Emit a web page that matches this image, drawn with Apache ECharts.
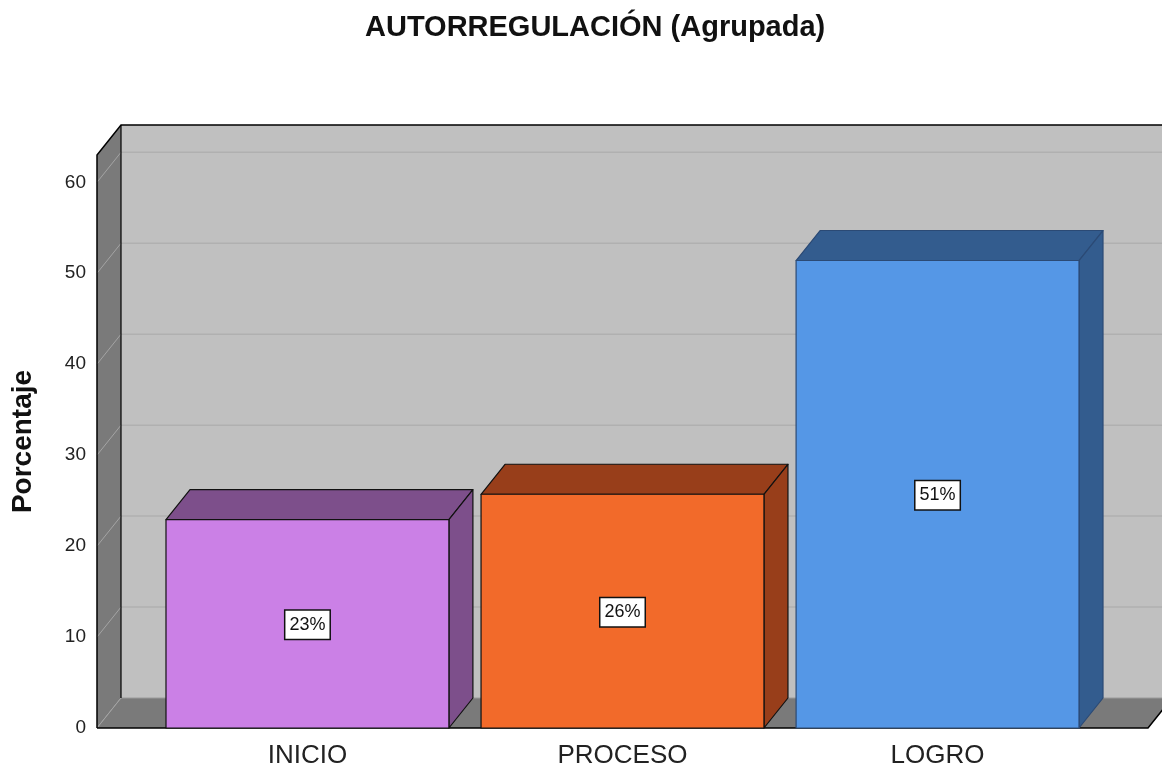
<!DOCTYPE html>
<html>
<head>
<meta charset="utf-8">
<script src="https://cdn.jsdelivr.net/npm/echarts@6/dist/echarts.min.js"></script>
<style>
html,body{margin:0;padding:0;background:#fff;}
#chart{width:1162px;height:769px;}
</style>
</head>
<body>
<div id="chart"></div>
<script>
// ---- data ----
const categories = ['INICIO', 'PROCESO', 'LOGRO'];
const percentages = [22.9, 25.7, 51.4];
const yTickLabels = [0, 10, 20, 30, 40, 50, 60];
const titleText = 'AUTORREGULACIÓN (Agrupada)';
const yAxisName = 'Porcentaje';

// ---- style / layout constants ----
const FONT = '"Liberation Sans", Arial, sans-serif';
const X_MIN = -0.668, X_MAX = 2.668;   // value-axis extent of the 3D box
const HALF = 0.449;                    // half bar width (in category units)
const DX = 24, DY = -30;               // depth offset in pixels
const Y_MAX = 63;
const frontColors = ['#cb80e6', '#f26a2a', '#5597e6'];
const depthColors = ['#7d4f8b', '#983e1a', '#335c8e'];
const edgeColors  = ['#111', '#111', '#2b4a75'];
const WALL = '#c0c0c0', SIDE = '#7a7a7a';

const chart = echarts.init(document.getElementById('chart'), null, {renderer: 'canvas'});

function renderWalls(params, api) {
  const fl = api.coord([X_MIN, 0]);
  const fr = api.coord([X_MAX, 0]);
  const ft = api.coord([X_MIN, Y_MAX]);
  const L = fl[0], R = fr[0], B = fl[1], T = ft[1];
  const children = [];
  // back wall
  children.push({type: 'rect', shape: {x: L + DX, y: T + DY, width: R - L + 40, height: B - T},
    style: {fill: WALL}});
  // gridlines (back wall)
  yTickLabels.forEach(function (v) {
    const y = api.coord([X_MIN, v])[1];
    if (v > 0) {
      children.push({type: 'line', shape: {x1: L + DX, y1: y + DY, x2: R + DX + 40, y2: y + DY},
        style: {stroke: '#b0b0b0', lineWidth: 1.5}});
    }
  });
  // left side wall
  children.push({type: 'polygon', shape: {points: [[L, B], [L + DX, B + DY], [L + DX, T + DY], [L, T]]},
    style: {fill: SIDE}});
  yTickLabels.forEach(function (v) {
    const y = api.coord([X_MIN, v])[1];
    children.push({type: 'line', shape: {x1: L, y1: y, x2: L + DX, y2: y + DY},
      style: {stroke: '#a4a4a4', lineWidth: 1}});
  });
  // floor
  children.push({type: 'polygon', shape: {points: [[L, B], [R, B], [R + DX, B + DY], [L + DX, B + DY]]},
    style: {fill: SIDE}});
  children.push({type: 'line', shape: {x1: L + DX, y1: B + DY, x2: R + DX, y2: B + DY},
    style: {stroke: '#9a9a9a', lineWidth: 1}});
  children.push({type: 'line', shape: {x1: L, y1: B, x2: L + DX, y2: B + DY},
    style: {stroke: '#a4a4a4', lineWidth: 1}});
  // black edges
  children.push({type: 'polyline', shape: {points: [[L, B], [L, T], [L + DX, T + DY], [R + DX + 40, T + DY]]},
    style: {stroke: '#000', lineWidth: 1.5, fill: null}});
  children.push({type: 'line', shape: {x1: L + DX, y1: T + DY, x2: L + DX, y2: B + DY},
    style: {stroke: '#000', lineWidth: 1.2}});
  children.push({type: 'polyline', shape: {points: [[L, B], [R, B], [R + DX, B + DY]]},
    style: {stroke: '#000', lineWidth: 1.5, fill: null}});
  return {type: 'group', children: children};
}

function renderBar(params, api) {
  const i = api.value(0), v = api.value(1);
  const bl = api.coord([i - HALF, 0]);
  const tr = api.coord([i + HALF, v]);
  const L = bl[0], B = bl[1], R = tr[0], T = tr[1];
  const idx = params.dataIndex;
  const edge = {stroke: edgeColors[idx], lineWidth: 1.2, lineJoin: 'round'};
  return {
    type: 'group',
    children: [
      {type: 'polygon', shape: {points: [[L, T], [R, T], [R + DX, T + DY], [L + DX, T + DY]]},
        style: Object.assign({fill: depthColors[idx]}, edge)},
      {type: 'polygon', shape: {points: [[R, T], [R, B], [R + DX, B + DY], [R + DX, T + DY]]},
        style: Object.assign({fill: depthColors[idx]}, edge)},
      {type: 'rect', shape: {x: L, y: T, width: R - L, height: B - T},
        style: Object.assign({fill: frontColors[idx]}, edge)},
      {type: 'text', x: (L + R) / 2, y: (T + B) / 2 + 1,
        style: {text: Math.round(v) + '%', fill: '#111', font: '18px ' + FONT,
          align: 'center', verticalAlign: 'middle',
          backgroundColor: '#fff', borderColor: '#111', borderWidth: 1.5,
          padding: [6, 4, 4, 4]}}
    ]
  };
}

const option = {
  backgroundColor: '#fff',
  animation: false,
  title: {
    text: titleText, left: 360, top: 8,
    textStyle: {fontFamily: FONT, fontSize: 29, fontWeight: 'bold', color: '#111'}
  },
  grid: [
    {left: 97, right: 14, top: 155, bottom: 41},
    {left: 150, right: 67, top: 155, bottom: 41}
  ],
  xAxis: [
    {type: 'value', gridIndex: 0, min: X_MIN, max: X_MAX, show: false},
    {type: 'category', gridIndex: 1, data: categories, boundaryGap: true,
      axisLine: {show: false}, axisTick: {show: false},
      axisLabel: {fontFamily: FONT, fontSize: 26, color: '#222', margin: 16}}
  ],
  yAxis: [
    {type: 'value', gridIndex: 0, min: 0, max: Y_MAX, interval: 10,
      name: yAxisName, nameLocation: 'middle', nameGap: 60,
      nameTextStyle: {fontFamily: FONT, fontSize: 28, fontWeight: 'bold', color: '#111'},
      axisLine: {show: false}, axisTick: {show: false}, splitLine: {show: false},
      axisLabel: {fontFamily: FONT, fontSize: 19, color: '#222', margin: 11, showMaxLabel: false,
        formatter: function (val) { return yTickLabels.indexOf(val) >= 0 ? String(val) : ''; }}},
    {type: 'value', gridIndex: 1, min: 0, max: Y_MAX, show: false}
  ],
  series: [
    {type: 'custom', name: 'walls', xAxisIndex: 0, yAxisIndex: 0, clip: false, silent: true,
      renderItem: renderWalls, data: [[0, 0]], z: 1},
    {type: 'custom', name: 'Porcentaje', xAxisIndex: 0, yAxisIndex: 0, clip: false,
      renderItem: renderBar, z: 2,
      data: percentages.map(function (v, i) { return [i, v]; })}
  ]
};
chart.setOption(option);
</script>
</body>
</html>
